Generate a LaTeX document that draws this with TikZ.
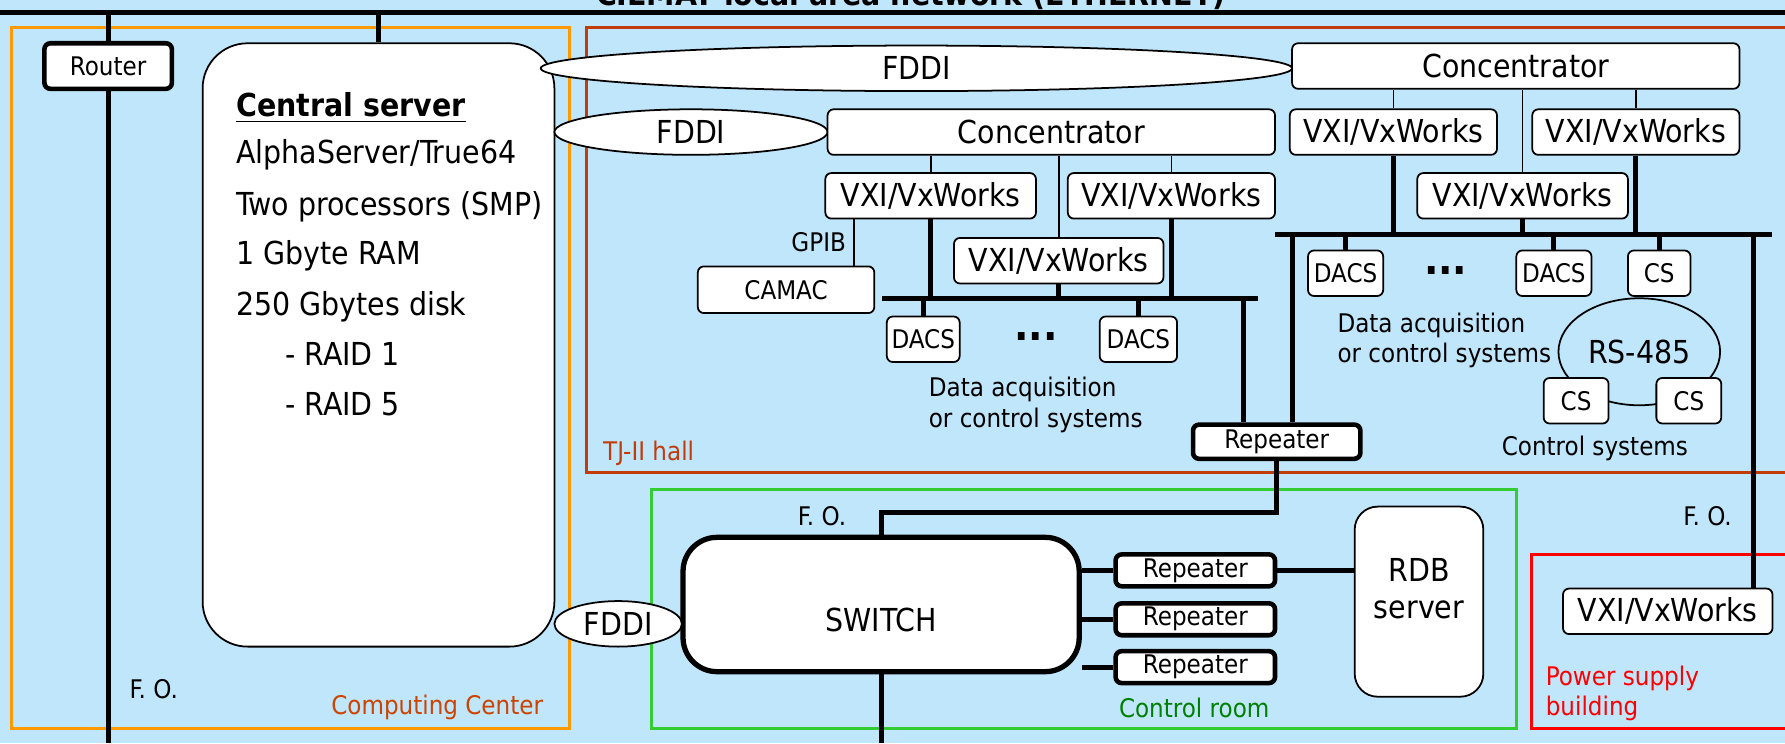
\documentclass[tikz,border=0pt]{standalone}
\usepackage{fontspec}
\setmainfont{DejaVu Sans Condensed}
\usetikzlibrary{shapes.geometric}

\definecolor{lanblue}{RGB}{192,230,252}
\definecolor{ccorange}{RGB}{255,153,0}
\definecolor{cctext}{RGB}{204,68,0}
\definecolor{hallred}{RGB}{192,60,10}
\definecolor{roomgreen}{RGB}{51,204,51}
\definecolor{roomtext}{RGB}{0,128,0}

\begin{document}
\begin{tikzpicture}[x=0.011384cm, y=-0.011384cm,
    dim/.style 2 args={minimum width=#1*0.011384cm, minimum height=#2*0.011384cm},
    big/.style={font=\fontsize{9}{10.5}\selectfont},
    small/.style={font=\fontsize{7.3}{8.7}\selectfont},
    box/.style={draw, fill=white, rounded corners=0.6mm, inner sep=0pt, line width=0.5pt, big},
    heavybox/.style={box, line width=1.3pt, small},
    ring/.style={ellipse, draw, fill=white, inner sep=0pt, line width=0.5pt, big},
    bus/.style={line width=1.4pt},
    link/.style={line width=0.5pt},
    area/.style={line width=0.8pt}]
    \fill[lanblue] (0,0) rectangle (1568,653);
    \useasboundingbox (0,0) rectangle (1568,653);

    \coordinate (ethL) at (0,11);
    \coordinate (ethR) at (1568,11);
    \coordinate (bottom) at (0,653);
    \coordinate (fobend) at (0,450);
    \node[font=\bfseries\fontsize{9}{10}\selectfont, anchor=base] (lan) at (800,5) {CIEMAT local area network (ETHERNET)};
    \draw[bus] (ethL) -- (ethR);

    \draw[area, ccorange] (10,24) rectangle (500,640);
    \draw[area, hallred] (515,24) rectangle (1580,415);
    \draw[area, roomgreen] (572,430) rectangle (1332,640);
    \draw[area, red] (1345,487) rectangle (1580,640);
    \node[small, text=cctext, anchor=east] (ccname) at (488,621) {Computing Center};
    \node[small, text=hallred, anchor=west] (hallname) at (519,398) {TJ-II hall};
    \node[small, text=roomtext] (roomname) at (1049,622) {Control room};
    \node[small, text=red, anchor=west, align=left] (powname) at (1347,609) {Power supply\\building};

    \node[heavybox, dim={112}{40}] (router) at (95,58) {Router};
    \node[box, rounded corners=4.5mm, dim={309}{530}] (server) at (332.5,303) {};
    \node[big, anchor=base west, inner sep=0pt] (srvtitle) at (207,102) {\underline{\textbf{Central server}}};
    \node[big, anchor=base west, inner sep=0pt] (srvos) at (207,144) {AlphaServer/True64};
    \node[big, anchor=base west, inner sep=0pt] (srvcpu) at (207,189) {Two processors (SMP)};
    \node[big, anchor=base west, inner sep=0pt] (srvram) at (207,232) {1 Gbyte RAM};
    \node[big, anchor=base west, inner sep=0pt] (srvdisk) at (207,277) {250 Gbytes disk};
    \node[big, anchor=base west, inner sep=0pt] (srvraidA) at (250,321) {- RAID 1};
    \node[big, anchor=base west, inner sep=0pt] (srvraidB) at (250,365) {- RAID 5};

    \node[ring, dim={660}{40}] (fddiA) at (805,60) {FDDI};
    \node[box, dim={393}{40}] (concA) at (1331.5,58) {Concentrator};
    \node[ring, dim={240}{40}] (fddiB) at (607,116) {FDDI};
    \node[box, dim={393}{40}] (concB) at (923.5,116) {Concentrator};

    \node[box, dim={185}{40}] (vxiA1) at (817.5,172) {VXI/VxWorks};
    \node[box, dim={182}{40}] (vxiA2) at (1029,172) {VXI/VxWorks};
    \node[box, dim={184}{40}] (vxiA3) at (930,229) {VXI/VxWorks};
    \node[box, small, dim={155}{41}] (camac) at (690.5,254.5) {CAMAC};
    \node[box, small, dim={64}{40}] (dacsA1) at (811,298) {DACS};
    \node[box, small, dim={68}{40}] (dacsA2) at (1000,298) {DACS};
    \node[font=\bfseries\fontsize{12}{12}\selectfont] (dotsA) at (910,296) {...};
    \node[small, anchor=west, align=left] (daqA) at (805,355.5) {Data acquisition\\or control systems};
    \node[small, anchor=east] (gpib) at (754,213) {GPIB};
    \coordinate (gpibx) at (750,0);

    \node[box, dim={182}{40}] (vxiB1) at (1224,116) {VXI/VxWorks};
    \node[box, dim={182}{40}] (vxiB2) at (1437,116) {VXI/VxWorks};
    \node[box, dim={185}{40}] (vxiB3) at (1337.5,172) {VXI/VxWorks};
    \node[box, small, dim={66}{40}] (dacsB1) at (1182,240) {DACS};
    \node[box, small, dim={66}{40}] (dacsB2) at (1365,240) {DACS};
    \node[font=\bfseries\fontsize{12}{12}\selectfont] (dotsB) at (1270,238) {...};
    \node[ellipse, draw, line width=0.5pt, inner sep=0pt, dim={142}{94}, big] (rs485) at (1440,309) {RS-485};
    \node[box, small, dim={55}{40}] (csB1) at (1457.5,240) {CS};
    \node[box, small, dim={57}{40}] (csB2) at (1384.5,352) {CS};
    \node[box, small, dim={57}{40}] (csB3) at (1483.5,352) {CS};
    \node[small, anchor=west, align=left] (daqB) at (1164,299) {Data acquisition\\or control systems};
    \node[small] (ctrlsys) at (1401,394) {Control systems};

    \node[heavybox, dim={147}{30}] (rep0) at (1121.5,388) {Repeater};
    \node[heavybox, line width=1.5pt, rounded corners=3.4mm, dim={348}{118}] (switch) at (774,531) {};
    \node[big] (switchname) at (774,545) {SWITCH};
    \node[ring, dim={112}{40}] (fddiC) at (543,548) {FDDI};
    \node[heavybox, dim={140}{28}] (rep1) at (1050,501) {Repeater};
    \node[heavybox, dim={140}{28}] (rep2) at (1050,544) {Repeater};
    \node[heavybox, dim={140}{28}] (rep3) at (1050,586) {Repeater};
    \node[box, rounded corners=2.3mm, dim={113}{167}] (rdb) at (1246.5,528.5) {};
    \node[big, align=center] (rdbname) at (1246.5,517) {RDB\\server};
    \node[box, dim={184}{40}] (vxiP) at (1465,537) {VXI/VxWorks};

    \node[small] (foA) at (135,605) {F. O.};
    \node[small] (foB) at (722,453) {F. O.};
    \node[small] (foC) at (1500,453) {F. O.};

    \coordinate (busAL) at (775,262);
    \coordinate (busAR) at (1105,262);
    \coordinate (busAdrop) at (1092,262);
    \coordinate (busBL) at (1120,206);
    \coordinate (busBR) at (1557,206);
    \coordinate (busBdrop) at (1135,206);
    \coordinate (busBpow) at (1540,206);

    \draw[bus] (router.north) -- (router.north |- ethL);
    \draw[bus] (router.south) -- (router.south |- bottom);
    \draw[bus] (server.north) -- (server.north |- ethL);

    \draw[link] (vxiA1.north) -- (vxiA1.north |- concB.south);
    \draw[link] (vxiA3.north) -- (vxiA3.north |- concB.south);
    \draw[link] (vxiA2.north) -- (vxiA2.north |- concB.south);
    \draw[link] (camac.north -| gpibx) -- (vxiA1.south -| gpibx);
    \draw[bus] (busAL) -- (busAR);
    \draw[bus] (vxiA1.south) -- (vxiA1.south |- busAL);
    \draw[bus] (vxiA3.south) -- (vxiA3.south |- busAL);
    \draw[bus] (vxiA2.south) -- (vxiA2.south |- busAL);
    \draw[bus] (dacsA1.north) -- (dacsA1.north |- busAL);
    \draw[bus] (dacsA2.north) -- (dacsA2.north |- busAL);
    \draw[bus] (busAdrop) -- (busAdrop |- rep0.north);

    \draw[link] (vxiB1.north) -- (vxiB1.north |- concA.south);
    \draw[link] (vxiB3.north) -- (vxiB3.north |- concA.south);
    \draw[link] (vxiB2.north) -- (vxiB2.north |- concA.south);
    \draw[bus] (busBL) -- (busBR);
    \draw[bus] (vxiB1.south) -- (vxiB1.south |- busBL);
    \draw[bus] (vxiB3.south) -- (vxiB3.south |- busBL);
    \draw[bus] (vxiB2.south) -- (vxiB2.south |- busBL);
    \draw[bus] (dacsB1.north) -- (dacsB1.north |- busBL);
    \draw[bus] (dacsB2.north) -- (dacsB2.north |- busBL);
    \draw[bus] (csB1.north) -- (csB1.north |- busBL);
    \draw[bus] (busBdrop) -- (busBdrop |- rep0.north);
    \draw[bus] (busBpow) -- (busBpow |- vxiP.north);

    \draw[bus] (rep0.south) |- (switch.north |- fobend) -- (switch.north);
    \draw[bus] (switch.south) -- (switch.south |- bottom);
    \draw[bus] (rep1.west) -- (rep1.west -| switch.east);
    \draw[bus] (rep2.west) -- (rep2.west -| switch.east);
    \draw[bus] (rep3.west) -- (rep3.west -| switch.east);
    \draw[bus] (rep1.east) -- (rep1.east -| rdb.west);
\end{tikzpicture}
\end{document}
